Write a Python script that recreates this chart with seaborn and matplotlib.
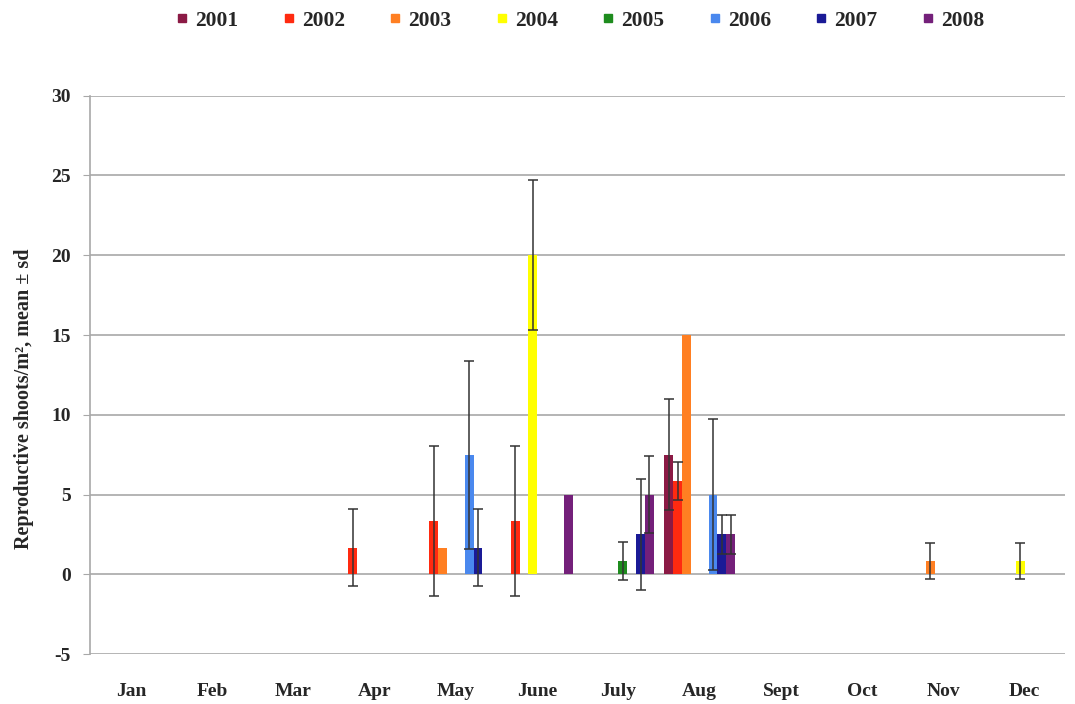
import numpy as np
import pandas as pd
import matplotlib
matplotlib.use("Agg")
import matplotlib.pyplot as plt
import seaborn as sns

months = ['Jan', 'Feb', 'Mar', 'Apr', 'May', 'June', 'July', 'Aug', 'Sept', 'Oct', 'Nov', 'Dec']
years = ['2001', '2002', '2003', '2004', '2005', '2006', '2007', '2008']
colors = ['#8B1A45', '#FF2A10', '#FF7F22', '#FFFF00', '#1E8C1E', '#4A88EE', '#1A1A96', '#74207A']

# mean reproductive shoots per m2, one list per year (Jan..Dec)
mean_2001 = [0, 0, 0, 0, 0, 0, 0, 7.5, 0, 0, 0, 0]
mean_2002 = [0, 0, 0, 1.67, 3.33, 3.33, 0, 5.83, 0, 0, 0, 0]
mean_2003 = [0, 0, 0, 0, 1.67, 0, 0, 15.0, 0, 0, 0.83, 0]
mean_2004 = [0, 0, 0, 0, 0, 20.0, 0, 0, 0, 0, 0, 0.83]
mean_2005 = [0, 0, 0, 0, 0, 0, 0.83, 0, 0, 0, 0, 0]
mean_2006 = [0, 0, 0, 0, 7.5, 0, 0, 5.0, 0, 0, 0, 0]
mean_2007 = [0, 0, 0, 0, 1.67, 0, 2.5, 2.5, 0, 0, 0, 0]
mean_2008 = [0, 0, 0, 0, 0, 5.0, 5.0, 2.5, 0, 0, 0, 0]

# standard deviations
sd_2001 = [0, 0, 0, 0, 0, 0, 0, 3.5, 0, 0, 0, 0]
sd_2002 = [0, 0, 0, 2.4, 4.7, 4.7, 0, 1.2, 0, 0, 0, 0]
sd_2003 = [0, 0, 0, 0, 0, 0, 0, 0, 0, 0, 1.15, 0]
sd_2004 = [0, 0, 0, 0, 0, 4.7, 0, 0, 0, 0, 0, 1.15]
sd_2005 = [0, 0, 0, 0, 0, 0, 1.18, 0, 0, 0, 0, 0]
sd_2006 = [0, 0, 0, 0, 5.9, 0, 0, 4.75, 0, 0, 0, 0]
sd_2007 = [0, 0, 0, 0, 2.4, 0, 3.5, 1.2, 0, 0, 0, 0]
sd_2008 = [0, 0, 0, 0, 0, 0, 2.4, 1.2, 0, 0, 0, 0]

means = [mean_2001, mean_2002, mean_2003, mean_2004, mean_2005, mean_2006, mean_2007, mean_2008]
sds = [sd_2001, sd_2002, sd_2003, sd_2004, sd_2005, sd_2006, sd_2007, sd_2008]

rows = []
for y, m, s in zip(years, means, sds):
    for mo, v, e in zip(months, m, s):
        rows.append({'month': mo, 'year': y, 'value': v, 'sd': e})
df = pd.DataFrame(rows)

sns.set_style("white")
plt.rcParams['font.family'] = ['Liberation Serif', 'DejaVu Serif']
plt.rcParams['font.weight'] = 'bold'
plt.rcParams['axes.unicode_minus'] = False

fig = plt.figure(figsize=(10.75, 7.04), dpi=100)
ax = fig.add_axes([0.084, 0.071, 0.907, 0.793])

sns.barplot(data=df, x='month', y='value', hue='year', order=months, hue_order=years,
            palette=colors, errorbar=None, width=0.87, dodge=True, ax=ax,
            saturation=1, linewidth=0)

# error bars at each bar centre
for cont, y, s in zip(ax.containers, years, sds):
    for bar, mo, e in zip(cont, months, s):
        if e > 0:
            x = bar.get_x() + bar.get_width() / 2
            ax.errorbar(x, bar.get_height(), yerr=e, fmt='none', ecolor='#333333',
                        elinewidth=1.1, capsize=3.5, capthick=1.1, zorder=5)

ax.set_ylim(-5, 30)
ax.set_yticks(range(-5, 31, 5))
ax.set_xlim(-0.5, 11.5)
ax.yaxis.grid(True, color='#A8A8A8', linewidth=1.2)
ax.set_axisbelow(True)
for side in ['top', 'right', 'bottom']:
    ax.spines[side].set_visible(False)
ax.spines['left'].set_color('#A8A8A8')
ax.spines['left'].set_linewidth(1.2)

ax.tick_params(axis='y', which='both', left=True, length=5, color='#A8A8A8', pad=9,
               labelsize=14)
ax.tick_params(axis='x', length=0, pad=21, labelsize=14)
for lab in ax.get_xticklabels() + ax.get_yticklabels():
    lab.set_fontweight('bold')

ax.set_xlabel('')
ax.set_ylabel('Reproductive shoots/m\u00b2, mean \u00b1 sd', fontsize=14.5, fontweight='bold')
ax.yaxis.set_label_coords(-0.058, 0.457)

handles = [plt.Line2D([], [], marker='s', linestyle='', color=c, markersize=6) for c in colors]
ax.legend(handles, years, loc='center', bbox_to_anchor=(0.50, 1.134), ncol=8,
          frameon=False, handletextpad=0.1, columnspacing=1.85, handlelength=1.0,
          prop={'weight': 'bold', 'size': 15.5})

fig.savefig('out.png', dpi=100)
